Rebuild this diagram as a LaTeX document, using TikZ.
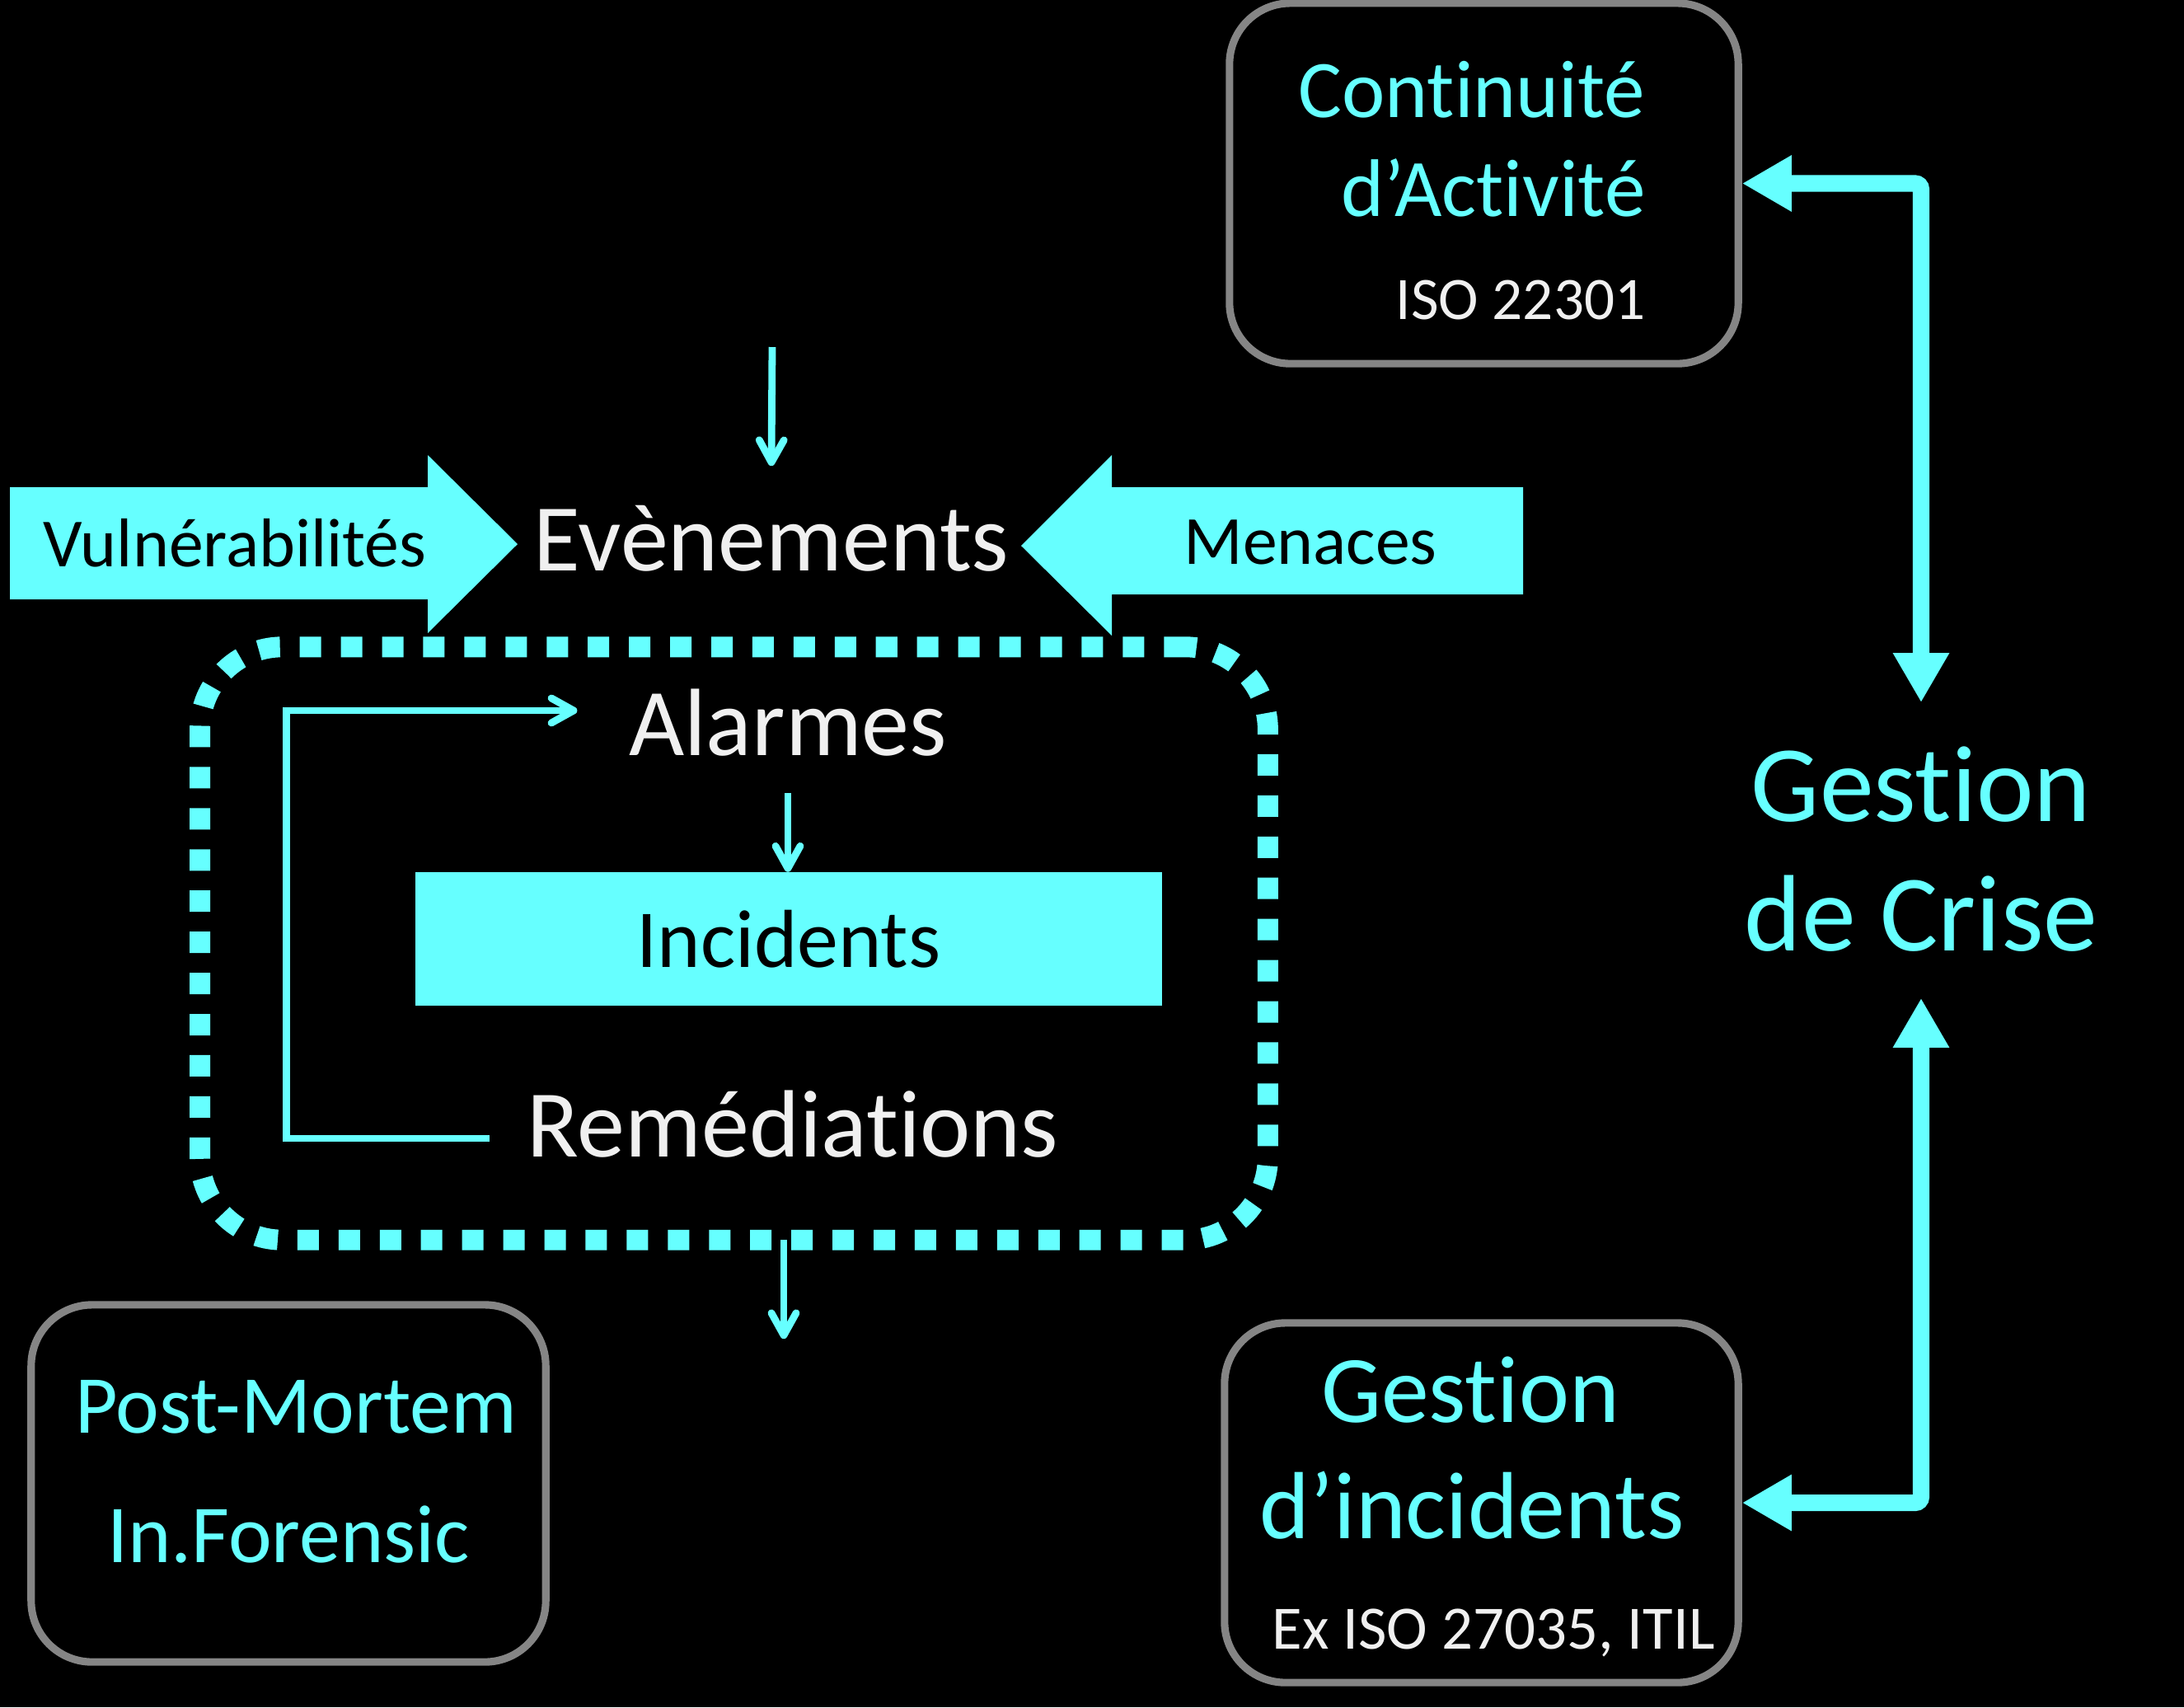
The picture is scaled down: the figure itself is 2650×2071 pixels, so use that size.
\documentclass[tikz,border=0pt]{standalone}
\usepackage{fontspec}
\setmainfont{Carlito}[Ligatures={NoCommon}]
\usetikzlibrary{arrows.meta}
\definecolor{cy}{HTML}{66FFFF}
\definecolor{bx}{HTML}{858585}
\definecolor{wt}{HTML}{F0F0F0}
\newcommand{\myfs}[1]{\fontsize{#1pt}{#1pt}\selectfont}
\begin{document}
\begin{tikzpicture}[x=0.01cm, y=-0.01cm,
  rbox/.style={draw=bx, line width=2.6pt, rounded corners=21pt, inner sep=0pt},
  bigarr/.style={draw=cy, line width=5.7pt, rounded corners=2pt,
     {Triangle[length=0.6cm,width=0.64cm]}-{Triangle[length=0.6cm,width=0.64cm]}},
  thinarr/.style={draw=cy, line width=2.5pt, -{Straight Barb[length=0.27cm,width=0.3cm,round]}},
  lbl/.style={inner sep=0pt, anchor=base},
  bigtxt/.style={lbl, text=wt, font={\myfs{33}}}
]
\fill[black] (0,0) rectangle (2650,2071);
\useasboundingbox (0,0) rectangle (2650,2071);

% boxes
\node[rbox, minimum width=6.17cm, minimum height=4.37cm] (cont) at (1800.5,222.5) {};
\node[rbox, minimum width=6.23cm, minimum height=4.36cm] (gi) at (1797.5,1823) {};
\node[rbox, minimum width=6.24cm, minimum height=4.33cm] (pm) at (350,1799.5) {};

% box texts
\node[lbl, anchor=base east, text=cy, font={\myfs{28.2}}] (c1) at (1997,142) {Continuité};
\node[lbl, anchor=base east, text=cy, font={\myfs{28.2}}] (c2) at (1997,262) {d’Activité};
\node[lbl, anchor=base east, text=wt, font={\myfs{20.8}}] (c3) at (1997,387) {ISO 22301};
\node[lbl, text=cy, font={\myfs{32.9}}] (g1) at (1784,1725) {Gestion};
\node[lbl, text=cy, font={\myfs{32.9}}] (g2) at (1786,1866) {d’incidents};
\node[lbl, anchor=base west, text=wt, font={\myfs{21.3}}] (g3) at (1543,2000) {Ex ISO 27035, ITIL};
\node[lbl, text=cy, font={\myfs{28.4}}] (p1) at (359,1738) {Post-Mortem};
\node[lbl, text=cy, font={\myfs{28.4}}] (p2) at (350,1895) {In.Forensic};

% crisis
\node[lbl, text=cy, font={\myfs{37.5}}, text height=1.43cm] (crA) at (2331,996) {Gestion};
\node[lbl, text=cy, font={\myfs{37.5}}, text depth=0.57cm] (crB) at (2331,1153) {de Crise};
\draw[bigarr] (cont.east) -| (crA.north);
\draw[bigarr] (gi.east) -| (crB.south);

% block arrows
\fill[cy] (12,591) -- (519,591) -- (519,552) -- (628,660) -- (519,768) -- (519,727) -- (12,727) -- cycle;
\node[lbl, text=black, font={\myfs{23.8}}] (vuln) at (285,687) {Vulnérabilités};
\fill[cy] (1848,591) -- (1349,591) -- (1349,552) -- (1239,662) -- (1349,771) -- (1349,721) -- (1848,721) -- cycle;
\node[lbl, text=black, font={\myfs{23.8}}] (men) at (1590,684) {Menaces};

% events
\node[bigtxt, text height=1.26cm] (evt) at (936,692) {Evènements};
\coordinate (evIn) at (937,421);
\draw[thinarr] (evIn) -- (evt.north);

% loop
\node[draw=cy, line width=7.1pt, dash pattern=on 7.4pt off 6.8pt, rounded corners=1cm,
  minimum width=12.95cm, minimum height=7.19cm, inner sep=0pt, outer sep=0pt] (loop) at (890.5,1144.5) {};
\node[fill=cy, minimum width=9.06cm, minimum height=1.61cm, inner sep=0pt, text=black,
  font={\myfs{28.4}}] (inc) at (957,1139) {Incidents};
\node[bigtxt, inner xsep=0.62cm, text height=1.53cm, text depth=0.45cm] (alarm) at (956,916) {Alarmes};
\node[bigtxt, inner xsep=0.45cm, text height=0.7cm, text depth=0.26cm] (rem) at (962,1403) {Remédiations};

\draw[thinarr] (alarm.south) -- (alarm.south |- inc.north);
\draw[thinarr] (rem.west) -- ++(-247,0) |- (alarm.west);
\draw[thinarr] ([xshift=-0.05cm]loop.south -| alarm.south) -- ++(0,120);
\end{tikzpicture}
\end{document}
